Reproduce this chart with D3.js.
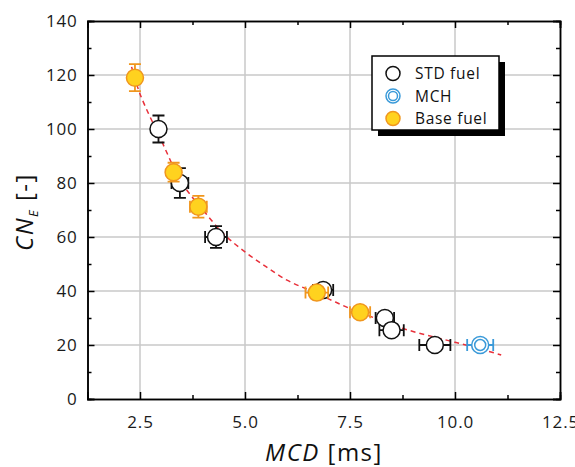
<!DOCTYPE html>
<html>
<head>
<meta charset="utf-8">
<script src="https://cdn.jsdelivr.net/npm/d3@7"></script>
<style>
  body { margin: 0; background: #fff; }
  svg { display: block; font-family: 'Open Sans', sans-serif; }
</style>
</head>
<body>
<div id="chart"></div>
<script>
// data: [MCD, CN_E, xErr, yErr]
var stdFuel = [
  [2.94, 100, 0, 5],
  [3.45, 80, 0.2, 5.5],
  [4.31, 60, 0.26, 4],
  [6.86, 40.4, 0.24, 0],
  [8.33, 30, 0.22, 0],
  [8.49, 25.5, 0.29, 0],
  [9.52, 20, 0.37, 0]
];
var mch = [
  [10.6, 20, 0.31, 0]
];
var baseFuel = [
  [2.38, 119, 0, 5],
  [3.3, 84, 0, 3.5],
  [3.89, 71.2, 0.2, 4],
  [6.71, 39.4, 0.27, 0],
  [7.74, 32.1, 0.24, 0]
];
// dashed trend line
var fitX = [2.3, 2.5, 3.0, 3.5, 4.0, 4.5, 5.0, 5.5, 6.0, 6.5, 7.0, 7.5, 8.0, 8.5, 9.0, 9.5, 10.0, 10.5, 11.1];
var fitY = [123, 113, 96, 80, 70, 61, 54.5, 49, 44, 40.5, 37, 33.5, 30.5, 27.5, 25, 23, 21, 19, 16.3];

var xTicks = [2.5, 5.0, 7.5, 10.0, 12.5];
var yTicks = [0, 20, 40, 60, 80, 100, 120, 140];
var legendItems = ['STD fuel', 'MCH', 'Base fuel'];

var width = 575,
  height = 467,
  pLeft = 87.5, pRight = 560, pTop = 21, pBottom = 399;

var x = d3.scaleLinear().domain([1.25, 12.5]).range([pLeft, pRight]);
var y = d3.scaleLinear().domain([0, 140]).range([pBottom, pTop]);

var svg = d3.select('#chart').append('svg')
  .attr('width', width)
  .attr('height', height);

// grid
svg.append('g').selectAll('line')
  .data(xTicks.slice(0, -1))
  .enter().append('line')
  .attr('x1', function (d) { return x(d); })
  .attr('x2', function (d) { return x(d); })
  .attr('y1', pTop).attr('y2', pBottom)
  .attr('stroke', '#c8c8c8').attr('stroke-width', 1.5);

svg.append('g').selectAll('line')
  .data(yTicks.slice(1, -1))
  .enter().append('line')
  .attr('y1', function (d) { return y(d); })
  .attr('y2', function (d) { return y(d); })
  .attr('x1', pLeft).attr('x2', pRight)
  .attr('stroke', '#c8c8c8').attr('stroke-width', 1.5);

// axes, ticks pointing inward on all four sides
function axisOf(gen, scale, major, minor, tx, ty, fmt, labels) {
  var g = svg.append('g').attr('transform', 'translate(' + tx + ',' + ty + ')');
  g.call(gen(scale).tickValues(minor).tickSize(-4).tickFormat(''));
  var g2 = svg.append('g').attr('transform', 'translate(' + tx + ',' + ty + ')');
  g2.call(gen(scale).tickValues(major).tickSize(-7).tickPadding(labels ? 17 : 0)
    .tickFormat(labels ? fmt : ''));
  [g, g2].forEach(function (s) {
    s.select('.domain').attr('stroke', '#000').attr('stroke-width', 1.5);
    s.selectAll('.tick line').attr('stroke', '#000').attr('stroke-width', 1.5);
    s.selectAll('.tick text').attr('font-size', 17).attr('fill', '#1a1a1a')
      .attr('letter-spacing', 0.8)
      .attr('font-family', "'Open Sans', sans-serif");
  });
  return g2;
}

var xMinor = [1.25, 3.75, 6.25, 8.75, 11.25];
var yMinor = [10, 30, 50, 70, 90, 110, 130];
axisOf(d3.axisBottom, x, xTicks, xMinor, 0, pBottom, d3.format('.1f'), true);
axisOf(d3.axisTop, x, xTicks, xMinor, 0, pTop, null, false);
axisOf(d3.axisLeft, y, yTicks, yMinor, pLeft, 0, d3.format('d'), true)
  .selectAll('.tick text').attr('x', -10);
axisOf(d3.axisRight, y, yTicks, yMinor, pRight, 0, null, false);

// trend line
var fit = fitX.map(function (d, i) { return [d, fitY[i]]; });
svg.append('path')
  .datum(fit)
  .attr('d', d3.line().x(function (d) { return x(d[0]); }).y(function (d) { return y(d[1]); })
    .curve(d3.curveCatmullRom))
  .attr('fill', 'none')
  .attr('stroke', '#e8303a')
  .attr('stroke-width', 1.5)
  .attr('stroke-dasharray', '5,4');

// points with error bars
function drawSeries(data, stroke, fill, cls) {
  var g = svg.append('g').attr('class', cls);
  data.forEach(function (d) {
    var cx = x(d[0]), cy = y(d[1]);
    var p = g.append('g');
    if (d[2] > 0) {
      var x0 = x(d[0] - d[2]), x1 = x(d[0] + d[2]);
      p.append('path')
        .attr('d', 'M' + x0 + ',' + cy + 'L' + x1 + ',' + cy +
          'M' + x0 + ',' + (cy - 6) + 'L' + x0 + ',' + (cy + 6) +
          'M' + x1 + ',' + (cy - 6) + 'L' + x1 + ',' + (cy + 6))
        .attr('stroke', stroke).attr('stroke-width', 1.8).attr('fill', 'none');
    }
    if (d[3] > 0) {
      var y0 = y(d[1] - d[3]), y1 = y(d[1] + d[3]);
      p.append('path')
        .attr('d', 'M' + cx + ',' + y0 + 'L' + cx + ',' + y1 +
          'M' + (cx - 6) + ',' + y0 + 'L' + (cx + 6) + ',' + y0 +
          'M' + (cx - 6) + ',' + y1 + 'L' + (cx + 6) + ',' + y1)
        .attr('stroke', stroke).attr('stroke-width', 1.8).attr('fill', 'none');
    }
    p.append('circle')
      .attr('cx', cx).attr('cy', cy).attr('r', 8.5)
      .attr('fill', fill).attr('stroke', stroke).attr('stroke-width', 1.5);
    if (cls === 'mch') {
      p.append('circle')
        .attr('cx', cx).attr('cy', cy).attr('r', 5.5)
        .attr('fill', 'none').attr('stroke', stroke).attr('stroke-width', 1.5);
    }
  });
}

drawSeries(stdFuel, '#111', '#fff', 'std');
drawSeries(mch, '#3a9ad9', '#fff', 'mch');
drawSeries(baseFuel, '#f0961e', '#ffd21f', 'base');

// legend
var lg = svg.append('g').attr('transform', 'translate(372,56)');
lg.append('rect').attr('x', 6).attr('y', 6).attr('width', 127).attr('height', 74).attr('fill', '#000');
lg.append('rect').attr('width', 127).attr('height', 74)
  .attr('fill', '#fff').attr('stroke', '#000').attr('stroke-width', 1.5);

var legendStyle = [
  { stroke: '#111', fill: '#fff', inner: false },
  { stroke: '#3a9ad9', fill: '#fff', inner: true },
  { stroke: '#f0961e', fill: '#ffd21f', inner: false }
];
legendItems.forEach(function (name, i) {
  var row = lg.append('g').attr('transform', 'translate(21,' + (17.5 + i * 22.5) + ')');
  row.append('circle').attr('r', 7)
    .attr('fill', legendStyle[i].fill).attr('stroke', legendStyle[i].stroke).attr('stroke-width', 1.5);
  if (legendStyle[i].inner) {
    row.append('circle').attr('r', 4.5).attr('fill', 'none')
      .attr('stroke', legendStyle[i].stroke).attr('stroke-width', 1.5);
  }
  row.append('text').attr('x', 22).attr('y', 5.5)
    .attr('font-size', 15.5).attr('letter-spacing', 0.7)
    .attr('fill', '#111').text(name);
});

// axis titles
svg.append('text')
  .attr('x', 324).attr('y', 461)
  .attr('text-anchor', 'middle')
  .attr('font-size', 24).attr('letter-spacing', 1.5).attr('fill', '#111')
  .html('<tspan font-style="italic">MCD</tspan> [ms]');

svg.append('text')
  .attr('transform', 'translate(33,212) rotate(-90)')
  .attr('text-anchor', 'middle')
  .attr('font-size', 24).attr('letter-spacing', 1.5).attr('fill', '#111')
  .html('<tspan font-style="italic">CN</tspan><tspan font-style="italic" font-size="13" dy="5">E</tspan><tspan dy="-5"> [-]</tspan>');
</script>
</body>
</html>
